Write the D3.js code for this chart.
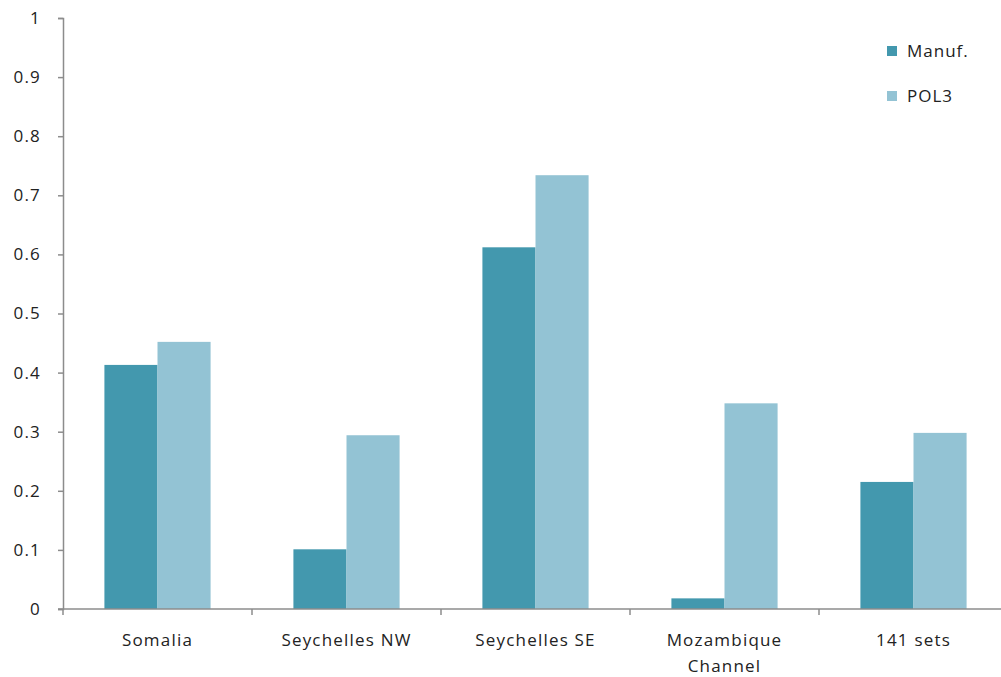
<!DOCTYPE html>
<html>
<head>
<meta charset="utf-8">
<script src="https://cdn.jsdelivr.net/npm/d3@7"></script>
<style>
  html, body { margin: 0; padding: 0; background: #fff; }
  svg { display: block; }
  text { font-family: "Open Sans", "Liberation Sans", Arial, sans-serif; fill: #222; }
</style>
</head>
<body>
<svg id="chart" width="1001" height="677"></svg>
<script>
// Region labels (multi-line labels split on "\n")
const categories = ["Somalia", "Seychelles NW", "Seychelles SE", "Mozambique\nChannel", "141 sets"];
const seriesNames = ["Manuf.", "POL3"];
const manufValues = [0.413, 0.101, 0.612, 0.018, 0.215];
const pol3Values = [0.452, 0.294, 0.734, 0.348, 0.298];
const yTicks = [0, 0.1, 0.2, 0.3, 0.4, 0.5, 0.6, 0.7, 0.8, 0.9, 1];
const seriesColors = ["#4398ae", "#93c3d4"];

const svg = d3.select("#chart");
const plotLeft = 63, plotRight = 1008, plotTop = 18, plotBottom = 609;
const fontFamily = "Open Sans, Liberation Sans, Arial, sans-serif";

const x = d3.scaleBand().domain(d3.range(categories.length)).range([plotLeft, plotRight]);
const inner = d3.scaleBand().domain([0, 1]).range([0, x.bandwidth()]).paddingOuter(0.78).paddingInner(0);
const y = d3.scaleLinear().domain([0, 1]).range([plotBottom, plotTop]);

const rows = categories.map((c, i) => ({ c, vals: [manufValues[i], pol3Values[i]] }));

// bars
const groups = svg.append("g").selectAll("g").data(rows).join("g")
  .attr("transform", (d, i) => `translate(${x(i)},0)`);
groups.selectAll("rect").data(d => d.vals).join("rect")
  .attr("x", (v, j) => inner(j))
  .attr("width", inner.bandwidth())
  .attr("y", v => y(v))
  .attr("height", v => y(0) - y(v))
  .attr("fill", (v, j) => seriesColors[j]);

const axisColor = "#8c8c8c";

// y axis
const yAxis = svg.append("g").attr("transform", `translate(${plotLeft},0)`)
  .call(d3.axisLeft(y).tickValues(yTicks).tickFormat(d => d === 0 ? "0" : String(+d.toFixed(1))).tickSize(5).tickPadding(17));
yAxis.select(".domain").attr("stroke", axisColor).attr("stroke-width", 1.5);
yAxis.selectAll(".tick line").attr("stroke", axisColor).attr("stroke-width", 1.5);
yAxis.selectAll(".tick text").attr("font-size", 17).attr("fill", "#222")
  .attr("letter-spacing", 1.2)
  .attr("font-family", fontFamily);

// x axis baseline with boundary ticks
const xAxisG = svg.append("g");
xAxisG.append("line").attr("x1", plotLeft - 5).attr("x2", plotRight).attr("y1", y(0)).attr("y2", y(0))
  .attr("stroke", axisColor).attr("stroke-width", 1.5);
xAxisG.selectAll("line.b").data(d3.range(categories.length + 1)).join("line")
  .attr("class", "b")
  .attr("x1", i => plotLeft + i * x.step()).attr("x2", i => plotLeft + i * x.step())
  .attr("y1", y(0)).attr("y2", y(0) + 6)
  .attr("stroke", axisColor).attr("stroke-width", 1.5);

// category labels
xAxisG.selectAll("text").data(categories).join("text")
  .attr("x", (c, i) => x(i) + x.bandwidth() / 2)
  .attr("y", y(0) + 37)
  .attr("text-anchor", "middle")
  .attr("font-size", 17)
  .attr("letter-spacing", 1.2)
  .each(function (c) {
    const t = d3.select(this);
    c.split("\n").forEach((line, k) => {
      t.append("tspan").attr("x", t.attr("x")).attr("dy", k === 0 ? 0 : 26).text(line);
    });
  });

// legend
const legend = svg.append("g").attr("transform", "translate(887,46)");
seriesNames.forEach((name, j) => {
  const g = legend.append("g").attr("transform", `translate(0,${j * 45})`);
  g.append("rect").attr("width", 10).attr("height", 10).attr("fill", seriesColors[j]);
  g.append("text").attr("x", 20).attr("y", 11).attr("font-size", 17)
    .attr("letter-spacing", 1).text(name);
});
</script>
</body>
</html>
